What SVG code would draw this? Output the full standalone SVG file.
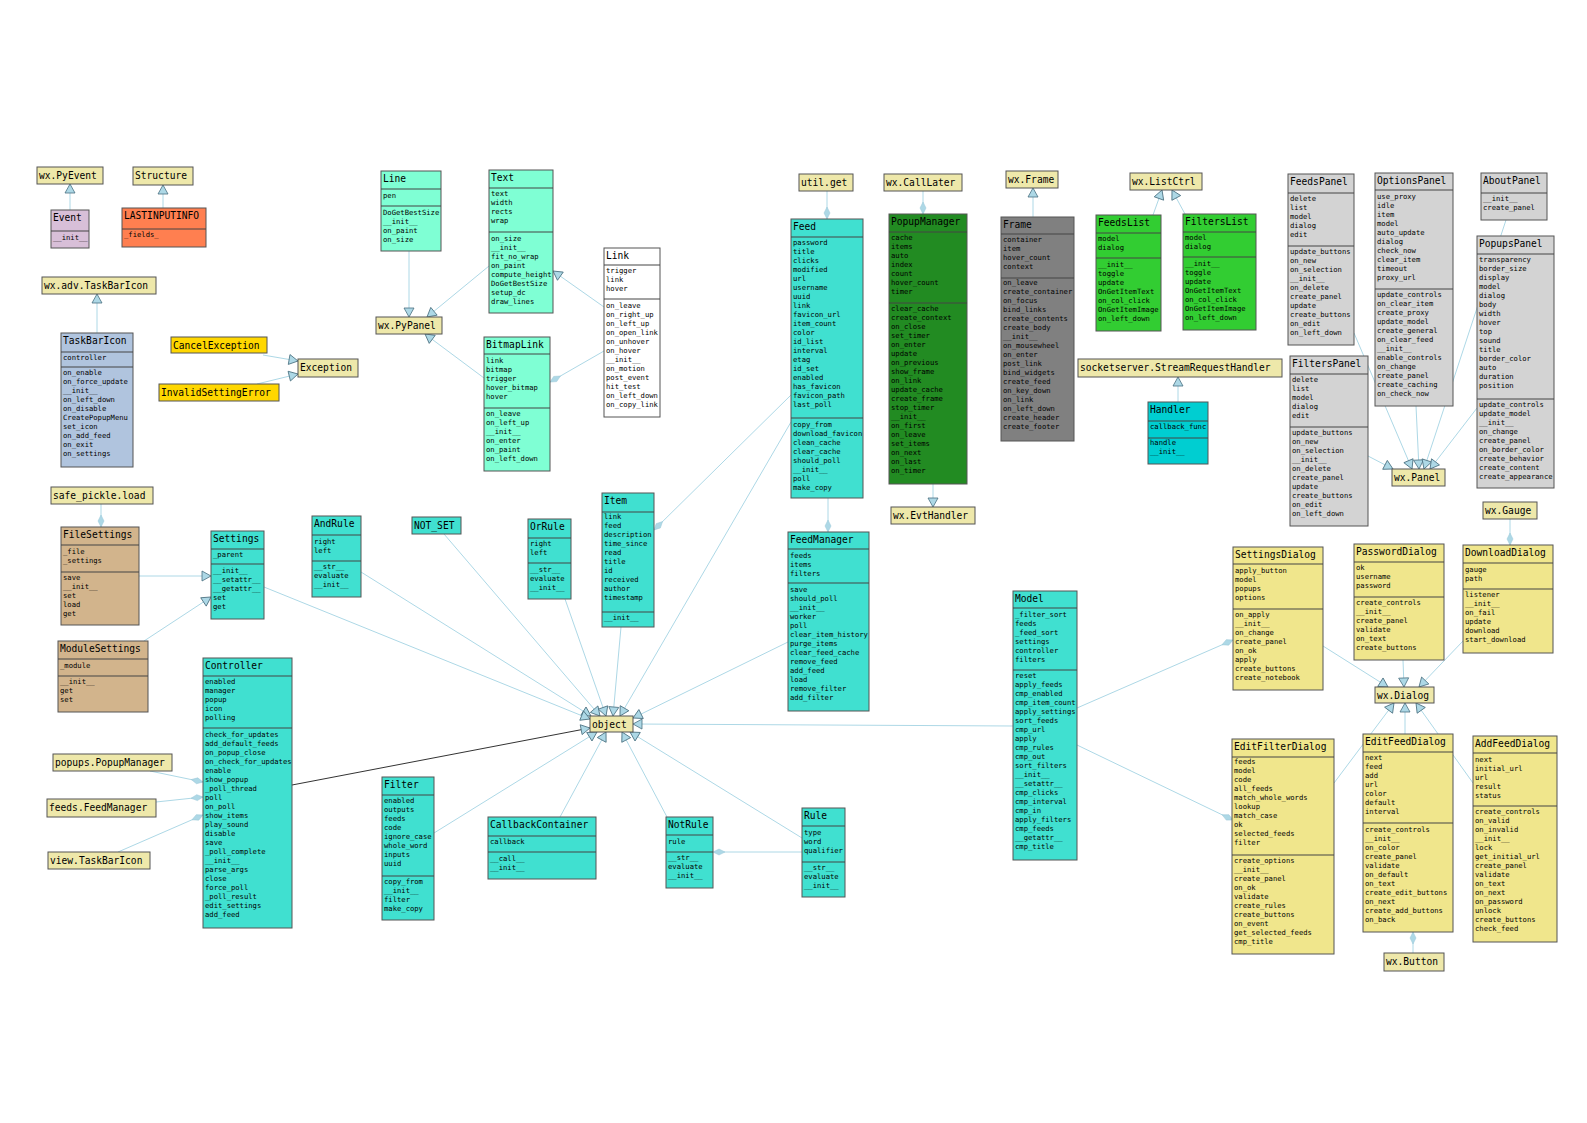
<svg xmlns="http://www.w3.org/2000/svg" width="1587" height="1123" viewBox="0 0 1587 1123">
<style>
.t{font-family:"DejaVu Sans Mono",monospace;font-size:9.6px;fill:#000}
.a{font-family:"DejaVu Sans Mono",monospace;font-size:7.2px;fill:#000}
.n rect{stroke:#555;stroke-width:1}
.d{stroke:#444;stroke-width:1}
.e line{stroke:#add8e6;stroke-width:1;fill:none}
.ext{fill:#eee8aa}
.aq{fill:#7fffd4}.tq{fill:#40e0d0}.kh{fill:#f0e68c}.lg{fill:#d3d3d3}.tan{fill:#d2b48c}.gold{fill:#ffd700}
</style>
<defs>
<marker id="tri" viewBox="-1 -1 11 12" refX="9" refY="5" markerWidth="11" markerHeight="12" markerUnits="userSpaceOnUse" orient="auto">
<path d="M0,0 L9,5 L0,10 z" fill="#add8e6" stroke="#4a7080" stroke-width="0.8"/>
</marker>
<marker id="dia" viewBox="-1 -1 14 8" refX="12" refY="3" markerWidth="14" markerHeight="8" markerUnits="userSpaceOnUse" orient="auto">
<path d="M0,3 L6,0 L12,3 L6,6 z" fill="#add8e6" stroke="#9cc8d8" stroke-width="0.5"/>
</marker>
</defs>
<rect width="1587" height="1123" fill="#fff"/>

<g id="connectors" class="e">
<line x1="70" y1="210" x2="70" y2="184" marker-end="url(#tri)"/>
<line x1="163" y1="208" x2="163" y2="185" marker-end="url(#tri)"/>
<line x1="97" y1="333" x2="97" y2="294" marker-end="url(#tri)"/>
<line x1="263" y1="355" x2="298" y2="361" marker-end="url(#tri)"/>
<line x1="257" y1="384" x2="298" y2="374" marker-end="url(#tri)"/>
<line x1="409" y1="251" x2="409" y2="317" marker-end="url(#tri)"/>
<line x1="489" y1="266" x2="427" y2="317" marker-end="url(#tri)"/>
<line x1="484" y1="378" x2="425" y2="334" marker-end="url(#tri)"/>
<line x1="604" y1="307" x2="553" y2="271" marker-end="url(#tri)"/>
<line x1="604" y1="351" x2="550" y2="382" marker-end="url(#dia)"/>
<line x1="1033" y1="217" x2="1033" y2="188" marker-end="url(#tri)"/>
<line x1="1153" y1="215" x2="1162" y2="190" marker-end="url(#tri)"/>
<line x1="1185" y1="214" x2="1172" y2="190" marker-end="url(#tri)"/>
<line x1="1178" y1="402" x2="1178" y2="377" marker-end="url(#tri)"/>
<line x1="933" y1="484" x2="933" y2="507" marker-end="url(#tri)"/>
<line x1="1354" y1="333" x2="1412" y2="469" marker-end="url(#tri)"/>
<line x1="1416" y1="406" x2="1419" y2="469" marker-end="url(#tri)"/>
<line x1="1506" y1="220" x2="1424" y2="469" marker-end="url(#tri)"/>
<line x1="1477" y1="408" x2="1430" y2="469" marker-end="url(#tri)"/>
<line x1="1368" y1="456" x2="1393" y2="469" marker-end="url(#tri)"/>
<line x1="1323" y1="646" x2="1388" y2="687" marker-end="url(#tri)"/>
<line x1="1403" y1="660" x2="1404" y2="687" marker-end="url(#tri)"/>
<line x1="1463" y1="641" x2="1419" y2="687" marker-end="url(#tri)"/>
<line x1="1334" y1="783" x2="1394" y2="703" marker-end="url(#tri)"/>
<line x1="1405" y1="734" x2="1405" y2="703" marker-end="url(#tri)"/>
<line x1="1473" y1="783" x2="1416" y2="703" marker-end="url(#tri)"/>
<line x1="139" y1="576" x2="211" y2="576" marker-end="url(#tri)"/>
<line x1="144" y1="641" x2="211" y2="597" marker-end="url(#tri)"/>
<line x1="361" y1="572" x2="591" y2="716" marker-end="url(#tri)"/>
<line x1="264" y1="587" x2="590" y2="719" marker-end="url(#tri)"/>
<line x1="444" y1="534" x2="600" y2="716" marker-end="url(#tri)"/>
<line x1="565" y1="599" x2="606" y2="716" marker-end="url(#tri)"/>
<line x1="621" y1="627" x2="613" y2="716" marker-end="url(#tri)"/>
<line x1="791" y1="422" x2="620" y2="716" marker-end="url(#tri)"/>
<line x1="788" y1="642" x2="633" y2="718" marker-end="url(#tri)"/>
<line x1="1013" y1="726" x2="633" y2="724" marker-end="url(#tri)"/>
<line x1="802" y1="838" x2="630" y2="732" marker-end="url(#tri)"/>
<line x1="667" y1="817" x2="622" y2="732" marker-end="url(#tri)"/>
<line x1="560" y1="817" x2="606" y2="732" marker-end="url(#tri)"/>
<line x1="434" y1="833" x2="597" y2="732" marker-end="url(#tri)"/>
<line x1="292" y1="785" x2="590" y2="728" marker-end="url(#tri)" style="stroke:#333"/>
<line x1="101" y1="504" x2="101" y2="527" marker-end="url(#dia)"/>
<line x1="827" y1="191" x2="827" y2="219" marker-end="url(#dia)"/>
<line x1="923" y1="191" x2="923" y2="214" marker-end="url(#dia)"/>
<line x1="828" y1="498" x2="828" y2="532" marker-end="url(#dia)"/>
<line x1="791" y1="395" x2="654" y2="530" marker-end="url(#dia)"/>
<line x1="150" y1="771" x2="203" y2="782" marker-end="url(#dia)"/>
<line x1="156" y1="802" x2="203" y2="797" marker-end="url(#dia)"/>
<line x1="118" y1="852" x2="203" y2="815" marker-end="url(#dia)"/>
<line x1="802" y1="852" x2="713" y2="852" marker-end="url(#dia)"/>
<line x1="1077" y1="708" x2="1233" y2="640" marker-end="url(#dia)"/>
<line x1="1077" y1="745" x2="1233" y2="820" marker-end="url(#dia)"/>
<line x1="1510" y1="519" x2="1510" y2="545" marker-end="url(#dia)"/>
<line x1="1413" y1="953" x2="1413" y2="932" marker-end="url(#dia)"/>
</g>

<g id="n-wx.PyEvent" class="n"><rect class="ext" x="37" y="167" width="66" height="17"/><text class="t" x="39" y="179">wx.PyEvent</text></g>
<g id="n-Structure" class="n"><rect class="ext" x="133" y="167" width="60" height="18"/><text class="t" x="135" y="179">Structure</text></g>
<g id="n-wx.adv.TaskBarIcon" class="n"><rect class="ext" x="42" y="277" width="114" height="17"/><text class="t" x="44" y="289">wx.adv.TaskBarIcon</text></g>
<g id="n-Exception" class="n"><rect class="ext" x="298" y="359" width="60" height="18"/><text class="t" x="300" y="371">Exception</text></g>
<g id="n-CancelException" class="n"><rect class="gold" x="171" y="337" width="96" height="16"/><text class="t" x="173" y="349">CancelException</text></g>
<g id="n-InvalidSettingError" class="n"><rect class="gold" x="159" y="384" width="120" height="17"/><text class="t" x="161" y="396">InvalidSettingError</text></g>
<g id="n-wx.PyPanel" class="n"><rect class="ext" x="376" y="317" width="66" height="17"/><text class="t" x="378" y="329">wx.PyPanel</text></g>
<g id="n-util.get" class="n"><rect class="ext" x="799" y="174" width="54" height="17"/><text class="t" x="801" y="186">util.get</text></g>
<g id="n-wx.CallLater" class="n"><rect class="ext" x="884" y="174" width="78" height="17"/><text class="t" x="886" y="186">wx.CallLater</text></g>
<g id="n-wx.Frame" class="n"><rect class="ext" x="1006" y="171" width="52" height="17"/><text class="t" x="1008" y="183">wx.Frame</text></g>
<g id="n-wx.ListCtrl" class="n"><rect class="ext" x="1130" y="173" width="72" height="17"/><text class="t" x="1132" y="185">wx.ListCtrl</text></g>
<g id="n-socketserver.StreamRequestHandler" class="n"><rect class="ext" x="1078" y="359" width="204" height="18"/><text class="t" x="1080" y="371">socketserver.StreamRequestHandler</text></g>
<g id="n-wx.EvtHandler" class="n"><rect class="ext" x="891" y="507" width="84" height="17"/><text class="t" x="893" y="519">wx.EvtHandler</text></g>
<g id="n-wx.Panel" class="n"><rect class="ext" x="1392" y="469" width="53" height="17"/><text class="t" x="1394" y="481">wx.Panel</text></g>
<g id="n-wx.Gauge" class="n"><rect class="ext" x="1483" y="502" width="54" height="17"/><text class="t" x="1485" y="514">wx.Gauge</text></g>
<g id="n-wx.Dialog" class="n"><rect class="ext" x="1375" y="687" width="59" height="16"/><text class="t" x="1377" y="699">wx.Dialog</text></g>
<g id="n-wx.Button" class="n"><rect class="ext" x="1384" y="953" width="60" height="18"/><text class="t" x="1386" y="965">wx.Button</text></g>
<g id="n-safe_pickle.load" class="n"><rect class="ext" x="51" y="487" width="102" height="17"/><text class="t" x="53" y="499">safe_pickle.load</text></g>
<g id="n-popups.PopupManager" class="n"><rect class="ext" x="53" y="754" width="119" height="17"/><text class="t" x="55" y="766">popups.PopupManager</text></g>
<g id="n-feeds.FeedManager" class="n"><rect class="ext" x="47" y="799" width="109" height="18"/><text class="t" x="49" y="811">feeds.FeedManager</text></g>
<g id="n-view.TaskBarIcon" class="n"><rect class="ext" x="48" y="852" width="102" height="17"/><text class="t" x="50" y="864">view.TaskBarIcon</text></g>
<g id="n-object" class="n"><rect class="ext" x="590" y="716" width="43" height="16"/><text class="t" x="592" y="728">object</text></g>
<g id="n-NOT_SET" class="n"><rect class="tq" x="412" y="517" width="49" height="17"/><text class="t" x="414" y="529">NOT_SET</text></g>

<g id="n-Event" class="n"><rect x="51" y="210" width="38" height="38" fill="#d8bfd8"/><text class="t" x="53" y="221">Event</text><line class="d" x1="51" y1="231" x2="89" y2="231"/><text class="a" x="53" y="239.5">__init__</text></g>

<g id="n-LASTINPUTINFO" class="n"><rect x="122" y="208" width="84" height="39" fill="#ff7f50"/><text class="t" x="124" y="219">LASTINPUTINFO</text><line class="d" x1="122" y1="229" x2="206" y2="229"/><text class="a" x="124" y="237">_fields_</text></g>

<g id="n-TaskBarIcon" class="n"><rect x="61" y="333" width="72" height="134" fill="#b0c4de"/><text class="t" x="63" y="344">TaskBarIcon</text><line class="d" x1="61" y1="352" x2="133" y2="352"/>
<text class="a" x="63" y="359.5">controller</text><line class="d" x1="61" y1="367" x2="133" y2="367"/>
<text class="a" x="63" y="375"><tspan x="63" dy="0">on_enable</tspan><tspan x="63" dy="9">on_force_update</tspan><tspan x="63" dy="9">__init__</tspan><tspan x="63" dy="9">on_left_down</tspan><tspan x="63" dy="9">on_disable</tspan><tspan x="63" dy="9">CreatePopupMenu</tspan><tspan x="63" dy="9">set_icon</tspan><tspan x="63" dy="9">on_add_feed</tspan><tspan x="63" dy="9">on_exit</tspan><tspan x="63" dy="9">on_settings</tspan></text></g>

<g id="n-Line" class="n"><rect class="aq" x="381" y="171" width="60" height="80"/><text class="t" x="383" y="182">Line</text><line class="d" x1="381" y1="189" x2="441" y2="189"/>
<text class="a" x="383" y="197.5">pen</text><line class="d" x1="381" y1="206" x2="441" y2="206"/>
<text class="a" x="383" y="214.6"><tspan x="383" dy="0">DoGetBestSize</tspan><tspan x="383" dy="9">__init__</tspan><tspan x="383" dy="9">on_paint</tspan><tspan x="383" dy="9">on_size</tspan></text></g>

<g id="n-Text" class="n"><rect class="aq" x="489" y="170" width="64" height="143"/><text class="t" x="491" y="181">Text</text><line class="d" x1="489" y1="188" x2="553" y2="188"/>
<text class="a" x="491" y="195.6"><tspan x="491" dy="0">text</tspan><tspan x="491" dy="9">width</tspan><tspan x="491" dy="9">rects</tspan><tspan x="491" dy="9">wrap</tspan></text><line class="d" x1="489" y1="232" x2="553" y2="232"/>
<text class="a" x="491" y="240.6"><tspan x="491" dy="0">on_size</tspan><tspan x="491" dy="9">__init__</tspan><tspan x="491" dy="9">fit_no_wrap</tspan><tspan x="491" dy="9">on_paint</tspan><tspan x="491" dy="9">compute_height</tspan><tspan x="491" dy="9">DoGetBestSize</tspan><tspan x="491" dy="9">setup_dc</tspan><tspan x="491" dy="9">draw_lines</tspan></text></g>

<g id="n-Link" class="n"><rect x="604" y="248" width="56" height="169" fill="#fff"/><text class="t" x="606" y="259">Link</text><line class="d" x1="604" y1="265" x2="660" y2="265"/>
<text class="a" x="606" y="273.3"><tspan x="606" dy="0">trigger</tspan><tspan x="606" dy="9">link</tspan><tspan x="606" dy="9">hover</tspan></text><line class="d" x1="604" y1="299" x2="660" y2="299"/>
<text class="a" x="606" y="307.6"><tspan x="606" dy="0">on_leave</tspan><tspan x="606" dy="9">on_right_up</tspan><tspan x="606" dy="9">on_left_up</tspan><tspan x="606" dy="9">on_open_link</tspan><tspan x="606" dy="9">on_unhover</tspan><tspan x="606" dy="9">on_hover</tspan><tspan x="606" dy="9">__init__</tspan><tspan x="606" dy="9">on_motion</tspan><tspan x="606" dy="9">post_event</tspan><tspan x="606" dy="9">hit_test</tspan><tspan x="606" dy="9">on_left_down</tspan><tspan x="606" dy="9">on_copy_link</tspan></text></g>

<g id="n-BitmapLink" class="n"><rect class="aq" x="484" y="337" width="66" height="134"/><text class="t" x="486" y="348">BitmapLink</text><line class="d" x1="484" y1="354" x2="550" y2="354"/>
<text class="a" x="486" y="362.6"><tspan x="486" dy="0">link</tspan><tspan x="486" dy="9">bitmap</tspan><tspan x="486" dy="9">trigger</tspan><tspan x="486" dy="9">hover_bitmap</tspan><tspan x="486" dy="9">hover</tspan></text><line class="d" x1="484" y1="408" x2="550" y2="408"/>
<text class="a" x="486" y="416"><tspan x="486" dy="0">on_leave</tspan><tspan x="486" dy="9">on_left_up</tspan><tspan x="486" dy="9">__init__</tspan><tspan x="486" dy="9">on_enter</tspan><tspan x="486" dy="9">on_paint</tspan><tspan x="486" dy="9">on_left_down</tspan></text></g>

<g id="n-Feed" class="n"><rect class="tq" x="791" y="219" width="72" height="279"/><text class="t" x="793" y="230">Feed</text><line class="d" x1="791" y1="237" x2="863" y2="237"/>
<text class="a" x="793" y="245"><tspan x="793" dy="0">password</tspan><tspan x="793" dy="9">title</tspan><tspan x="793" dy="9">clicks</tspan><tspan x="793" dy="9">modified</tspan><tspan x="793" dy="9">url</tspan><tspan x="793" dy="9">username</tspan><tspan x="793" dy="9">uuid</tspan><tspan x="793" dy="9">link</tspan><tspan x="793" dy="9">favicon_url</tspan><tspan x="793" dy="9">item_count</tspan><tspan x="793" dy="9">color</tspan><tspan x="793" dy="9">id_list</tspan><tspan x="793" dy="9">interval</tspan><tspan x="793" dy="9">etag</tspan><tspan x="793" dy="9">id_set</tspan><tspan x="793" dy="9">enabled</tspan><tspan x="793" dy="9">has_favicon</tspan><tspan x="793" dy="9">favicon_path</tspan><tspan x="793" dy="9">last_poll</tspan></text><line class="d" x1="791" y1="418" x2="863" y2="418"/>
<text class="a" x="793" y="426.6"><tspan x="793" dy="0">copy_from</tspan><tspan x="793" dy="9">download_favicon</tspan><tspan x="793" dy="9">clean_cache</tspan><tspan x="793" dy="9">clear_cache</tspan><tspan x="793" dy="9">should_poll</tspan><tspan x="793" dy="9">__init__</tspan><tspan x="793" dy="9">poll</tspan><tspan x="793" dy="9">make_copy</tspan></text></g>

<g id="n-PopupManager" class="n"><rect x="889" y="214" width="78" height="270" fill="#228b22"/><text class="t" x="891" y="225">PopupManager</text><line class="d" x1="889" y1="232" x2="967" y2="232"/>
<text class="a" x="891" y="240.3"><tspan x="891" dy="0">cache</tspan><tspan x="891" dy="9">items</tspan><tspan x="891" dy="9">auto</tspan><tspan x="891" dy="9">index</tspan><tspan x="891" dy="9">count</tspan><tspan x="891" dy="9">hover_count</tspan><tspan x="891" dy="9">timer</tspan></text><line class="d" x1="889" y1="303" x2="967" y2="303"/>
<text class="a" x="891" y="311"><tspan x="891" dy="0">clear_cache</tspan><tspan x="891" dy="9">create_context</tspan><tspan x="891" dy="9">on_close</tspan><tspan x="891" dy="9">set_timer</tspan><tspan x="891" dy="9">on_enter</tspan><tspan x="891" dy="9">update</tspan><tspan x="891" dy="9">on_previous</tspan><tspan x="891" dy="9">show_frame</tspan><tspan x="891" dy="9">on_link</tspan><tspan x="891" dy="9">update_cache</tspan><tspan x="891" dy="9">create_frame</tspan><tspan x="891" dy="9">stop_timer</tspan><tspan x="891" dy="9">__init__</tspan><tspan x="891" dy="9">on_first</tspan><tspan x="891" dy="9">on_leave</tspan><tspan x="891" dy="9">set_items</tspan><tspan x="891" dy="9">on_next</tspan><tspan x="891" dy="9">on_last</tspan><tspan x="891" dy="9">on_timer</tspan></text></g>

<g id="n-Frame" class="n"><rect x="1001" y="217" width="73" height="224" fill="#808080"/><text class="t" x="1003" y="228">Frame</text><line class="d" x1="1001" y1="234" x2="1074" y2="234"/>
<text class="a" x="1003" y="241.6"><tspan x="1003" dy="0">container</tspan><tspan x="1003" dy="9">item</tspan><tspan x="1003" dy="9">hover_count</tspan><tspan x="1003" dy="9">context</tspan></text><line class="d" x1="1001" y1="278" x2="1074" y2="278"/>
<text class="a" x="1003" y="285.3"><tspan x="1003" dy="0">on_leave</tspan><tspan x="1003" dy="9">create_container</tspan><tspan x="1003" dy="9">on_focus</tspan><tspan x="1003" dy="9">bind_links</tspan><tspan x="1003" dy="9">create_contents</tspan><tspan x="1003" dy="9">create_body</tspan><tspan x="1003" dy="9">__init__</tspan><tspan x="1003" dy="9">on_mousewheel</tspan><tspan x="1003" dy="9">on_enter</tspan><tspan x="1003" dy="9">post_link</tspan><tspan x="1003" dy="9">bind_widgets</tspan><tspan x="1003" dy="9">create_feed</tspan><tspan x="1003" dy="9">on_key_down</tspan><tspan x="1003" dy="9">on_link</tspan><tspan x="1003" dy="9">on_left_down</tspan><tspan x="1003" dy="9">create_header</tspan><tspan x="1003" dy="9">create_footer</tspan></text></g>

<g id="n-FeedsList" class="n"><rect x="1096" y="215" width="65" height="116" fill="#32cd32"/><text class="t" x="1098" y="226">FeedsList</text><line class="d" x1="1096" y1="233" x2="1161" y2="233"/>
<text class="a" x="1098" y="241"><tspan x="1098" dy="0">model</tspan><tspan x="1098" dy="9">dialog</tspan></text><line class="d" x1="1096" y1="258" x2="1161" y2="258"/>
<text class="a" x="1098" y="266.6"><tspan x="1098" dy="0">__init__</tspan><tspan x="1098" dy="9">toggle</tspan><tspan x="1098" dy="9">update</tspan><tspan x="1098" dy="9">OnGetItemText</tspan><tspan x="1098" dy="9">on_col_click</tspan><tspan x="1098" dy="9">OnGetItemImage</tspan><tspan x="1098" dy="9">on_left_down</tspan></text></g>

<g id="n-FiltersList" class="n"><rect x="1183" y="214" width="73" height="116" fill="#32cd32"/><text class="t" x="1185" y="225">FiltersList</text><line class="d" x1="1183" y1="232" x2="1256" y2="232"/>
<text class="a" x="1185" y="240"><tspan x="1185" dy="0">model</tspan><tspan x="1185" dy="9">dialog</tspan></text><line class="d" x1="1183" y1="257" x2="1256" y2="257"/>
<text class="a" x="1185" y="265.6"><tspan x="1185" dy="0">__init__</tspan><tspan x="1185" dy="9">toggle</tspan><tspan x="1185" dy="9">update</tspan><tspan x="1185" dy="9">OnGetItemText</tspan><tspan x="1185" dy="9">on_col_click</tspan><tspan x="1185" dy="9">OnGetItemImage</tspan><tspan x="1185" dy="9">on_left_down</tspan></text></g>

<g id="n-Handler" class="n"><rect x="1148" y="402" width="60" height="62" fill="#00ced1"/><text class="t" x="1150" y="413">Handler</text><line class="d" x1="1148" y1="421" x2="1208" y2="421"/>
<text class="a" x="1150" y="429.3">callback_func</text><line class="d" x1="1148" y1="438" x2="1208" y2="438"/>
<text class="a" x="1150" y="445.3"><tspan x="1150" dy="0">handle</tspan><tspan x="1150" dy="9">__init__</tspan></text></g>

<g id="n-FeedsPanel" class="n"><rect class="lg" x="1288" y="174" width="66" height="171"/><text class="t" x="1290" y="185">FeedsPanel</text><line class="d" x1="1288" y1="193" x2="1354" y2="193"/>
<text class="a" x="1290" y="201"><tspan x="1290" dy="0">delete</tspan><tspan x="1290" dy="9">list</tspan><tspan x="1290" dy="9">model</tspan><tspan x="1290" dy="9">dialog</tspan><tspan x="1290" dy="9">edit</tspan></text><line class="d" x1="1288" y1="246" x2="1354" y2="246"/>
<text class="a" x="1290" y="254.3"><tspan x="1290" dy="0">update_buttons</tspan><tspan x="1290" dy="9">on_new</tspan><tspan x="1290" dy="9">on_selection</tspan><tspan x="1290" dy="9">__init__</tspan><tspan x="1290" dy="9">on_delete</tspan><tspan x="1290" dy="9">create_panel</tspan><tspan x="1290" dy="9">update</tspan><tspan x="1290" dy="9">create_buttons</tspan><tspan x="1290" dy="9">on_edit</tspan><tspan x="1290" dy="9">on_left_down</tspan></text></g>

<g id="n-OptionsPanel" class="n"><rect class="lg" x="1375" y="173" width="78" height="233"/><text class="t" x="1377" y="184">OptionsPanel</text><line class="d" x1="1375" y1="190" x2="1453" y2="190"/>
<text class="a" x="1377" y="198.6"><tspan x="1377" dy="0">use_proxy</tspan><tspan x="1377" dy="9">idle</tspan><tspan x="1377" dy="9">item</tspan><tspan x="1377" dy="9">model</tspan><tspan x="1377" dy="9">auto_update</tspan><tspan x="1377" dy="9">dialog</tspan><tspan x="1377" dy="9">check_now</tspan><tspan x="1377" dy="9">clear_item</tspan><tspan x="1377" dy="9">timeout</tspan><tspan x="1377" dy="9">proxy_url</tspan></text><line class="d" x1="1375" y1="289" x2="1453" y2="289"/>
<text class="a" x="1377" y="297"><tspan x="1377" dy="0">update_controls</tspan><tspan x="1377" dy="9">on_clear_item</tspan><tspan x="1377" dy="9">create_proxy</tspan><tspan x="1377" dy="9">update_model</tspan><tspan x="1377" dy="9">create_general</tspan><tspan x="1377" dy="9">on_clear_feed</tspan><tspan x="1377" dy="9">__init__</tspan><tspan x="1377" dy="9">enable_controls</tspan><tspan x="1377" dy="9">on_change</tspan><tspan x="1377" dy="9">create_panel</tspan><tspan x="1377" dy="9">create_caching</tspan><tspan x="1377" dy="9">on_check_now</tspan></text></g>

<g id="n-AboutPanel" class="n"><rect class="lg" x="1481" y="173" width="66" height="47"/><text class="t" x="1483" y="184">AboutPanel</text><line class="d" x1="1481" y1="193" x2="1547" y2="193"/>
<text class="a" x="1483" y="201"><tspan x="1483" dy="0">__init__</tspan><tspan x="1483" dy="9">create_panel</tspan></text></g>

<g id="n-PopupsPanel" class="n"><rect class="lg" x="1477" y="236" width="77" height="252"/><text class="t" x="1479" y="247">PopupsPanel</text><line class="d" x1="1477" y1="254" x2="1554" y2="254"/>
<text class="a" x="1479" y="261.6"><tspan x="1479" dy="0">transparency</tspan><tspan x="1479" dy="9">border_size</tspan><tspan x="1479" dy="9">display</tspan><tspan x="1479" dy="9">model</tspan><tspan x="1479" dy="9">dialog</tspan><tspan x="1479" dy="9">body</tspan><tspan x="1479" dy="9">width</tspan><tspan x="1479" dy="9">hover</tspan><tspan x="1479" dy="9">top</tspan><tspan x="1479" dy="9">sound</tspan><tspan x="1479" dy="9">title</tspan><tspan x="1479" dy="9">border_color</tspan><tspan x="1479" dy="9">auto</tspan><tspan x="1479" dy="9">duration</tspan><tspan x="1479" dy="9">position</tspan></text><line class="d" x1="1477" y1="399" x2="1554" y2="399"/>
<text class="a" x="1479" y="406.6"><tspan x="1479" dy="0">update_controls</tspan><tspan x="1479" dy="9">update_model</tspan><tspan x="1479" dy="9">__init__</tspan><tspan x="1479" dy="9">on_change</tspan><tspan x="1479" dy="9">create_panel</tspan><tspan x="1479" dy="9">on_border_color</tspan><tspan x="1479" dy="9">create_behavior</tspan><tspan x="1479" dy="9">create_content</tspan><tspan x="1479" dy="9">create_appearance</tspan></text></g>

<g id="n-FiltersPanel" class="n"><rect class="lg" x="1290" y="356" width="78" height="170"/><text class="t" x="1292" y="367">FiltersPanel</text><line class="d" x1="1290" y1="374" x2="1368" y2="374"/>
<text class="a" x="1292" y="381.6"><tspan x="1292" dy="0">delete</tspan><tspan x="1292" dy="9">list</tspan><tspan x="1292" dy="9">model</tspan><tspan x="1292" dy="9">dialog</tspan><tspan x="1292" dy="9">edit</tspan></text><line class="d" x1="1290" y1="427" x2="1368" y2="427"/>
<text class="a" x="1292" y="435.3"><tspan x="1292" dy="0">update_buttons</tspan><tspan x="1292" dy="9">on_new</tspan><tspan x="1292" dy="9">on_selection</tspan><tspan x="1292" dy="9">__init__</tspan><tspan x="1292" dy="9">on_delete</tspan><tspan x="1292" dy="9">create_panel</tspan><tspan x="1292" dy="9">update</tspan><tspan x="1292" dy="9">create_buttons</tspan><tspan x="1292" dy="9">on_edit</tspan><tspan x="1292" dy="9">on_left_down</tspan></text></g>

<g id="n-FileSettings" class="n"><rect class="tan" x="61" y="527" width="78" height="98"/><text class="t" x="63" y="538">FileSettings</text><line class="d" x1="61" y1="545" x2="139" y2="545"/>
<text class="a" x="63" y="553.6"><tspan x="63" dy="0">_file</tspan><tspan x="63" dy="9">_settings</tspan></text><line class="d" x1="61" y1="572" x2="139" y2="572"/>
<text class="a" x="63" y="579.6"><tspan x="63" dy="0">save</tspan><tspan x="63" dy="9">__init__</tspan><tspan x="63" dy="9">set</tspan><tspan x="63" dy="9">load</tspan><tspan x="63" dy="9">get</tspan></text></g>

<g id="n-Settings" class="n"><rect class="tq" x="211" y="531" width="53" height="88"/><text class="t" x="213" y="542">Settings</text><line class="d" x1="211" y1="549" x2="264" y2="549"/>
<text class="a" x="213" y="557">_parent</text><line class="d" x1="211" y1="564" x2="264" y2="564"/>
<text class="a" x="213" y="572.6"><tspan x="213" dy="0">__init__</tspan><tspan x="213" dy="9">__setattr__</tspan><tspan x="213" dy="9">__getattr__</tspan><tspan x="213" dy="9">set</tspan><tspan x="213" dy="9">get</tspan></text></g>

<g id="n-ModuleSettings" class="n"><rect class="tan" x="58" y="641" width="90" height="71"/><text class="t" x="60" y="652">ModuleSettings</text><line class="d" x1="58" y1="659" x2="148" y2="659"/>
<text class="a" x="60" y="667.6">_module</text><line class="d" x1="58" y1="676" x2="148" y2="676"/>
<text class="a" x="60" y="684.3"><tspan x="60" dy="0">__init__</tspan><tspan x="60" dy="9">get</tspan><tspan x="60" dy="9">set</tspan></text></g>

<g id="n-Controller" class="n"><rect class="tq" x="203" y="658" width="89" height="270"/><text class="t" x="205" y="669">Controller</text><line class="d" x1="203" y1="676" x2="292" y2="676"/>
<text class="a" x="205" y="683.6"><tspan x="205" dy="0">enabled</tspan><tspan x="205" dy="9">manager</tspan><tspan x="205" dy="9">popup</tspan><tspan x="205" dy="9">icon</tspan><tspan x="205" dy="9">polling</tspan></text><line class="d" x1="203" y1="728" x2="292" y2="728"/>
<text class="a" x="205" y="736.6"><tspan x="205" dy="0">check_for_updates</tspan><tspan x="205" dy="9">add_default_feeds</tspan><tspan x="205" dy="9">on_popup_close</tspan><tspan x="205" dy="9">on_check_for_updates</tspan><tspan x="205" dy="9">enable</tspan><tspan x="205" dy="9">show_popup</tspan><tspan x="205" dy="9">_poll_thread</tspan><tspan x="205" dy="9">poll</tspan><tspan x="205" dy="9">on_poll</tspan><tspan x="205" dy="9">show_items</tspan><tspan x="205" dy="9">play_sound</tspan><tspan x="205" dy="9">disable</tspan><tspan x="205" dy="9">save</tspan><tspan x="205" dy="9">_poll_complete</tspan><tspan x="205" dy="9">__init__</tspan><tspan x="205" dy="9">parse_args</tspan><tspan x="205" dy="9">close</tspan><tspan x="205" dy="9">force_poll</tspan><tspan x="205" dy="9">_poll_result</tspan><tspan x="205" dy="9">edit_settings</tspan><tspan x="205" dy="9">add_feed</tspan></text></g>

<g id="n-AndRule" class="n"><rect class="tq" x="312" y="516" width="49" height="81"/><text class="t" x="314" y="527">AndRule</text><line class="d" x1="312" y1="535" x2="361" y2="535"/>
<text class="a" x="314" y="543.6"><tspan x="314" dy="0">right</tspan><tspan x="314" dy="9">left</tspan></text><line class="d" x1="312" y1="561" x2="361" y2="561"/>
<text class="a" x="314" y="569.3"><tspan x="314" dy="0">__str__</tspan><tspan x="314" dy="9">evaluate</tspan><tspan x="314" dy="9">__init__</tspan></text></g>

<g id="n-OrRule" class="n"><rect class="tq" x="528" y="519" width="43" height="80"/><text class="t" x="530" y="530">OrRule</text><line class="d" x1="528" y1="538" x2="571" y2="538"/>
<text class="a" x="530" y="546"><tspan x="530" dy="0">right</tspan><tspan x="530" dy="9">left</tspan></text><line class="d" x1="528" y1="563" x2="571" y2="563"/>
<text class="a" x="530" y="572"><tspan x="530" dy="0">__str__</tspan><tspan x="530" dy="9">evaluate</tspan><tspan x="530" dy="9">__init__</tspan></text></g>

<g id="n-Item" class="n"><rect class="tq" x="602" y="493" width="52" height="134"/><text class="t" x="604" y="504">Item</text><line class="d" x1="602" y1="512" x2="654" y2="512"/>
<text class="a" x="604" y="519.3"><tspan x="604" dy="0">link</tspan><tspan x="604" dy="9">feed</tspan><tspan x="604" dy="9">description</tspan><tspan x="604" dy="9">time_since</tspan><tspan x="604" dy="9">read</tspan><tspan x="604" dy="9">title</tspan><tspan x="604" dy="9">id</tspan><tspan x="604" dy="9">received</tspan><tspan x="604" dy="9">author</tspan><tspan x="604" dy="9">timestamp</tspan></text><line class="d" x1="602" y1="612" x2="654" y2="612"/>
<text class="a" x="604" y="620">__init__</text></g>

<g id="n-Filter" class="n"><rect class="tq" x="382" y="777" width="52" height="143"/><text class="t" x="384" y="788">Filter</text><line class="d" x1="382" y1="795" x2="434" y2="795"/>
<text class="a" x="384" y="803.3"><tspan x="384" dy="0">enabled</tspan><tspan x="384" dy="9">outputs</tspan><tspan x="384" dy="9">feeds</tspan><tspan x="384" dy="9">code</tspan><tspan x="384" dy="9">ignore_case</tspan><tspan x="384" dy="9">whole_word</tspan><tspan x="384" dy="9">inputs</tspan><tspan x="384" dy="9">uuid</tspan></text><line class="d" x1="382" y1="876" x2="434" y2="876"/>
<text class="a" x="384" y="884.3"><tspan x="384" dy="0">copy_from</tspan><tspan x="384" dy="9">__init__</tspan><tspan x="384" dy="9">filter</tspan><tspan x="384" dy="9">make_copy</tspan></text></g>

<g id="n-CallbackContainer" class="n"><rect class="tq" x="488" y="817" width="108" height="62"/><text class="t" x="490" y="828">CallbackContainer</text><line class="d" x1="488" y1="836" x2="596" y2="836"/>
<text class="a" x="490" y="844.3">callback</text><line class="d" x1="488" y1="852" x2="596" y2="852"/>
<text class="a" x="490" y="861"><tspan x="490" dy="0">__call__</tspan><tspan x="490" dy="9">__init__</tspan></text></g>

<g id="n-FeedManager" class="n"><rect class="tq" x="788" y="532" width="81" height="179"/><text class="t" x="790" y="543">FeedManager</text><line class="d" x1="788" y1="549" x2="869" y2="549"/>
<text class="a" x="790" y="557.6"><tspan x="790" dy="0">feeds</tspan><tspan x="790" dy="9">items</tspan><tspan x="790" dy="9">filters</tspan></text><line class="d" x1="788" y1="583" x2="869" y2="583"/>
<text class="a" x="790" y="591.6"><tspan x="790" dy="0">save</tspan><tspan x="790" dy="9">should_poll</tspan><tspan x="790" dy="9">__init__</tspan><tspan x="790" dy="9">worker</tspan><tspan x="790" dy="9">poll</tspan><tspan x="790" dy="9">clear_item_history</tspan><tspan x="790" dy="9">purge_items</tspan><tspan x="790" dy="9">clear_feed_cache</tspan><tspan x="790" dy="9">remove_feed</tspan><tspan x="790" dy="9">add_feed</tspan><tspan x="790" dy="9">load</tspan><tspan x="790" dy="9">remove_filter</tspan><tspan x="790" dy="9">add_filter</tspan></text></g>

<g id="n-Model" class="n"><rect class="tq" x="1013" y="591" width="64" height="269"/><text class="t" x="1015" y="602">Model</text><line class="d" x1="1013" y1="608" x2="1077" y2="608"/>
<text class="a" x="1015" y="616.6"><tspan x="1015" dy="0">_filter_sort</tspan><tspan x="1015" dy="9">feeds</tspan><tspan x="1015" dy="9">_feed_sort</tspan><tspan x="1015" dy="9">settings</tspan><tspan x="1015" dy="9">controller</tspan><tspan x="1015" dy="9">filters</tspan></text><line class="d" x1="1013" y1="670" x2="1077" y2="670"/>
<text class="a" x="1015" y="678.3"><tspan x="1015" dy="0">reset</tspan><tspan x="1015" dy="9">apply_feeds</tspan><tspan x="1015" dy="9">cmp_enabled</tspan><tspan x="1015" dy="9">cmp_item_count</tspan><tspan x="1015" dy="9">apply_settings</tspan><tspan x="1015" dy="9">sort_feeds</tspan><tspan x="1015" dy="9">cmp_url</tspan><tspan x="1015" dy="9">apply</tspan><tspan x="1015" dy="9">cmp_rules</tspan><tspan x="1015" dy="9">cmp_out</tspan><tspan x="1015" dy="9">sort_filters</tspan><tspan x="1015" dy="9">__init__</tspan><tspan x="1015" dy="9">__setattr__</tspan><tspan x="1015" dy="9">cmp_clicks</tspan><tspan x="1015" dy="9">cmp_interval</tspan><tspan x="1015" dy="9">cmp_in</tspan><tspan x="1015" dy="9">apply_filters</tspan><tspan x="1015" dy="9">cmp_feeds</tspan><tspan x="1015" dy="9">__getattr__</tspan><tspan x="1015" dy="9">cmp_title</tspan></text></g>

<g id="n-NotRule" class="n"><rect class="tq" x="666" y="817" width="47" height="71"/><text class="t" x="668" y="828">NotRule</text><line class="d" x1="666" y1="835" x2="713" y2="835"/>
<text class="a" x="668" y="843.6">rule</text><line class="d" x1="666" y1="852" x2="713" y2="852"/>
<text class="a" x="668" y="860.3"><tspan x="668" dy="0">__str__</tspan><tspan x="668" dy="9">evaluate</tspan><tspan x="668" dy="9">__init__</tspan></text></g>

<g id="n-Rule" class="n"><rect class="tq" x="802" y="808" width="43" height="89"/><text class="t" x="804" y="819">Rule</text><line class="d" x1="802" y1="826" x2="845" y2="826"/>
<text class="a" x="804" y="834.6"><tspan x="804" dy="0">type</tspan><tspan x="804" dy="9">word</tspan><tspan x="804" dy="9">qualifier</tspan></text><line class="d" x1="802" y1="862" x2="845" y2="862"/>
<text class="a" x="804" y="870.3"><tspan x="804" dy="0">__str__</tspan><tspan x="804" dy="9">evaluate</tspan><tspan x="804" dy="9">__init__</tspan></text></g>

<g id="n-SettingsDialog" class="n"><rect class="kh" x="1233" y="547" width="90" height="143"/><text class="t" x="1235" y="558">SettingsDialog</text><line class="d" x1="1233" y1="564" x2="1323" y2="564"/>
<text class="a" x="1235" y="572.6"><tspan x="1235" dy="0">apply_button</tspan><tspan x="1235" dy="9">model</tspan><tspan x="1235" dy="9">popups</tspan><tspan x="1235" dy="9">options</tspan></text><line class="d" x1="1233" y1="609" x2="1323" y2="609"/>
<text class="a" x="1235" y="617"><tspan x="1235" dy="0">on_apply</tspan><tspan x="1235" dy="9">__init__</tspan><tspan x="1235" dy="9">on_change</tspan><tspan x="1235" dy="9">create_panel</tspan><tspan x="1235" dy="9">on_ok</tspan><tspan x="1235" dy="9">apply</tspan><tspan x="1235" dy="9">create_buttons</tspan><tspan x="1235" dy="9">create_notebook</tspan></text></g>

<g id="n-PasswordDialog" class="n"><rect class="kh" x="1354" y="544" width="90" height="116"/><text class="t" x="1356" y="555">PasswordDialog</text><line class="d" x1="1354" y1="562" x2="1444" y2="562"/>
<text class="a" x="1356" y="570"><tspan x="1356" dy="0">ok</tspan><tspan x="1356" dy="9">username</tspan><tspan x="1356" dy="9">password</tspan></text><line class="d" x1="1354" y1="597" x2="1444" y2="597"/>
<text class="a" x="1356" y="604.6"><tspan x="1356" dy="0">create_controls</tspan><tspan x="1356" dy="9">__init__</tspan><tspan x="1356" dy="9">create_panel</tspan><tspan x="1356" dy="9">validate</tspan><tspan x="1356" dy="9">on_text</tspan><tspan x="1356" dy="9">create_buttons</tspan></text></g>

<g id="n-DownloadDialog" class="n"><rect class="kh" x="1463" y="545" width="90" height="108"/><text class="t" x="1465" y="556">DownloadDialog</text><line class="d" x1="1463" y1="563" x2="1553" y2="563"/>
<text class="a" x="1465" y="572"><tspan x="1465" dy="0">gauge</tspan><tspan x="1465" dy="9">path</tspan></text><line class="d" x1="1463" y1="589" x2="1553" y2="589"/>
<text class="a" x="1465" y="597.3"><tspan x="1465" dy="0">listener</tspan><tspan x="1465" dy="9">__init__</tspan><tspan x="1465" dy="9">on_fail</tspan><tspan x="1465" dy="9">update</tspan><tspan x="1465" dy="9">download</tspan><tspan x="1465" dy="9">start_download</tspan></text></g>

<g id="n-EditFilterDialog" class="n"><rect class="kh" x="1232" y="739" width="102" height="215"/><text class="t" x="1234" y="750">EditFilterDialog</text><line class="d" x1="1232" y1="757" x2="1334" y2="757"/>
<text class="a" x="1234" y="764.3"><tspan x="1234" dy="0">feeds</tspan><tspan x="1234" dy="9">model</tspan><tspan x="1234" dy="9">code</tspan><tspan x="1234" dy="9">all_feeds</tspan><tspan x="1234" dy="9">match_whole_words</tspan><tspan x="1234" dy="9">lookup</tspan><tspan x="1234" dy="9">match_case</tspan><tspan x="1234" dy="9">ok</tspan><tspan x="1234" dy="9">selected_feeds</tspan><tspan x="1234" dy="9">filter</tspan></text><line class="d" x1="1232" y1="855" x2="1334" y2="855"/>
<text class="a" x="1234" y="863.3"><tspan x="1234" dy="0">create_options</tspan><tspan x="1234" dy="9">__init__</tspan><tspan x="1234" dy="9">create_panel</tspan><tspan x="1234" dy="9">on_ok</tspan><tspan x="1234" dy="9">validate</tspan><tspan x="1234" dy="9">create_rules</tspan><tspan x="1234" dy="9">create_buttons</tspan><tspan x="1234" dy="9">on_event</tspan><tspan x="1234" dy="9">get_selected_feeds</tspan><tspan x="1234" dy="9">cmp_title</tspan></text></g>

<g id="n-EditFeedDialog" class="n"><rect class="kh" x="1363" y="734" width="90" height="198"/><text class="t" x="1365" y="745">EditFeedDialog</text><line class="d" x1="1363" y1="752" x2="1453" y2="752"/>
<text class="a" x="1365" y="760"><tspan x="1365" dy="0">next</tspan><tspan x="1365" dy="9">feed</tspan><tspan x="1365" dy="9">add</tspan><tspan x="1365" dy="9">url</tspan><tspan x="1365" dy="9">color</tspan><tspan x="1365" dy="9">default</tspan><tspan x="1365" dy="9">interval</tspan></text><line class="d" x1="1363" y1="823" x2="1453" y2="823"/>
<text class="a" x="1365" y="831.6"><tspan x="1365" dy="0">create_controls</tspan><tspan x="1365" dy="9">__init__</tspan><tspan x="1365" dy="9">on_color</tspan><tspan x="1365" dy="9">create_panel</tspan><tspan x="1365" dy="9">validate</tspan><tspan x="1365" dy="9">on_default</tspan><tspan x="1365" dy="9">on_text</tspan><tspan x="1365" dy="9">create_edit_buttons</tspan><tspan x="1365" dy="9">on_next</tspan><tspan x="1365" dy="9">create_add_buttons</tspan><tspan x="1365" dy="9">on_back</tspan></text></g>

<g id="n-AddFeedDialog" class="n"><rect class="kh" x="1473" y="736" width="84" height="206"/><text class="t" x="1475" y="747">AddFeedDialog</text><line class="d" x1="1473" y1="753" x2="1557" y2="753"/>
<text class="a" x="1475" y="761.6"><tspan x="1475" dy="0">next</tspan><tspan x="1475" dy="9">initial_url</tspan><tspan x="1475" dy="9">url</tspan><tspan x="1475" dy="9">result</tspan><tspan x="1475" dy="9">status</tspan></text><line class="d" x1="1473" y1="806" x2="1557" y2="806"/>
<text class="a" x="1475" y="814.3"><tspan x="1475" dy="0">create_controls</tspan><tspan x="1475" dy="9">on_valid</tspan><tspan x="1475" dy="9">on_invalid</tspan><tspan x="1475" dy="9">__init__</tspan><tspan x="1475" dy="9">lock</tspan><tspan x="1475" dy="9">get_initial_url</tspan><tspan x="1475" dy="9">create_panel</tspan><tspan x="1475" dy="9">validate</tspan><tspan x="1475" dy="9">on_text</tspan><tspan x="1475" dy="9">on_next</tspan><tspan x="1475" dy="9">on_password</tspan><tspan x="1475" dy="9">unlock</tspan><tspan x="1475" dy="9">create_buttons</tspan><tspan x="1475" dy="9">check_feed</tspan></text></g>
</svg>
